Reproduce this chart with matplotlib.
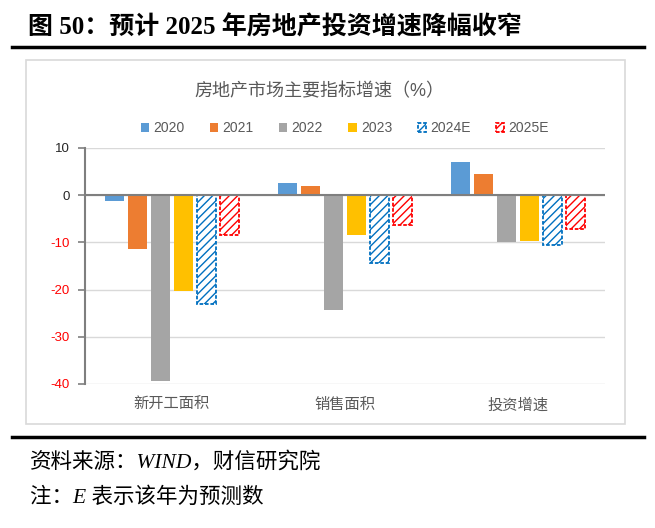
import matplotlib.pyplot as plt
import numpy as np
from matplotlib.lines import Line2D
from matplotlib.patches import Patch, Rectangle

plt.rcParams['font.family'] = ['Liberation Sans', 'Noto Sans CJK SC']
plt.rcParams['hatch.linewidth'] = 1.0

# data (%)
categories = ['新开工面积', '销售面积', '投资增速']
series_names = ['2020', '2021', '2022', '2023', '2024E', '2025E']
v2020 = [-1.2, 2.6, 7.0]
v2021 = [-11.4, 1.9, 4.4]
v2022 = [-39.4, -24.3, -10.0]
v2023 = [-20.4, -8.5, -9.6]
v2024e = [-23.0, -14.4, -10.6]
v2025e = [-8.5, -6.3, -7.2]
y_ticks = [10, 0, -10, -20, -30, -40]

series = [v2020, v2021, v2022, v2023, v2024e, v2025e]
colors = ['#5B9BD5', '#ED7D31', '#A5A5A5', '#FFC000', '#0070C0', '#FF0000']
hatched = [False, False, False, False, True, True]

fig = plt.figure(figsize=(6.55, 5.28), dpi=100)
W, H = 655, 528

# header and rules
fig.text(28 / W, 1 - 27 / H, '图 50：预计 2025 年房地产投资增速降幅收窄',
         family=['Liberation Serif', 'Noto Sans CJK SC'], fontweight='bold',
         fontsize=18, va='center', ha='left', color='black')
fig.add_artist(Line2D([12 / W, 644 / W], [1 - 47 / H, 1 - 47 / H], color='black', lw=2.5))
fig.add_artist(Line2D([12 / W, 644 / W], [1 - 437 / H, 1 - 437 / H], color='black', lw=2.5))
fig.add_artist(Rectangle((26 / W, 1 - 424 / H), (625 - 26) / W, (424 - 60) / H,
                         fill=False, edgecolor='#D9D9D9', lw=1.2))

# footer
fig.text(30 / W, 1 - 462 / H, '资料来源：WIND，财信研究院',
         family=['Liberation Serif', 'Noto Sans CJK SC'], style='italic',
         fontsize=15.5, va='center', ha='left', color='black')
fig.text(30 / W, 1 - 498 / H, '注：E 表示该年为预测数',
         family=['Liberation Serif', 'Noto Sans CJK SC'], style='italic',
         fontsize=15.5, va='center', ha='left', color='black')

# chart title
fig.text(319 / W, 1 - 92 / H, '房地产市场主要指标增速（%）', fontsize=13,
         color='#595959', ha='center', va='center')

ax = fig.add_axes([85 / W, 1 - 384 / H, (605 - 85) / W, (384 - 148) / H])
x = np.arange(len(categories))
pitch = 0.133
width = 0.11
handles = []
for i, (vals, name, c, h) in enumerate(zip(series, series_names, colors, hatched)):
    pos = x + (i - 2.5) * pitch
    if h:
        ax.bar(pos, vals, width, facecolor='white', edgecolor=c, hatch='////',
               linestyle=(0, (2, 1)), linewidth=1.3, zorder=3)
        handles.append(Patch(facecolor='white', edgecolor=c, hatch='////',
                             linestyle=(0, (2, 1)), linewidth=1.3, label=name))
    else:
        ax.bar(pos, vals, width, color=c, zorder=3)
        handles.append(Patch(facecolor=c, label=name))

ax.set_xlim(-0.5, 2.5)
ax.set_ylim(-40, 10)
ax.set_yticks(y_ticks)
ax.set_yticklabels([str(t) for t in y_ticks], fontsize=9.5)
for lab, t in zip(ax.get_yticklabels(), y_ticks):
    lab.set_color('red' if t < 0 else '#262626')
ax.tick_params(axis='y', length=5, width=1.2, color='#7F7F7F', pad=6)
ax.set_xticks(x)
ax.set_xticklabels(categories, fontsize=11, color='#595959')
ax.tick_params(axis='x', length=0, pad=10)

ax.yaxis.grid(True, color='#D9D9D9', lw=1, zorder=0)
ax.axhline(0, color='#7F7F7F', lw=1.5, zorder=4)
for s in ['top', 'right', 'bottom']:
    ax.spines[s].set_visible(False)
ax.spines['left'].set_color('#7F7F7F')
ax.spines['left'].set_linewidth(1.5)

fig.legend(handles=handles, loc='center', bbox_to_anchor=(345 / W, 1 - 128 / H), ncol=6,
           frameon=False, fontsize=10, handlelength=0.6, handleheight=0.6,
           handletextpad=0.3, columnspacing=1.83, labelcolor='#595959')

fig.savefig('out.png', dpi=100)
